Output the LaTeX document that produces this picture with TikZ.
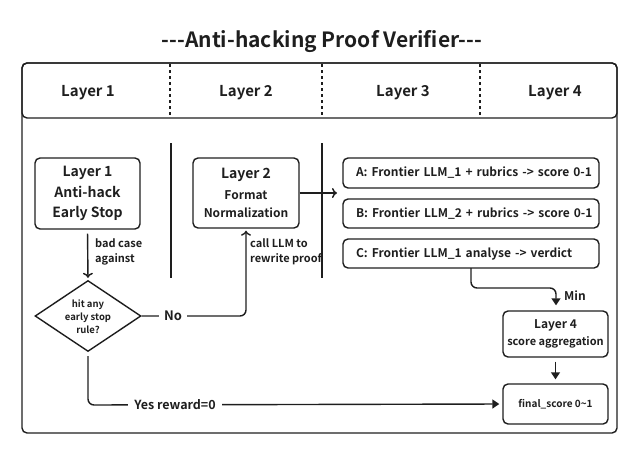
\documentclass[tikz,border=0pt]{standalone}
\usepackage{fontspec}
\setmainfont{Noto Sans CJK SC}[BoldFont={Noto Sans CJK SC Bold}]
\usetikzlibrary{arrows.meta,shapes.geometric,calc}
\definecolor{ink}{HTML}{1E1E1E}
\tikzset{
  box/.style={draw=ink, line width=1.4pt, rounded corners=5pt, align=center, text=ink, font=\bfseries, inner sep=0pt},
  lbl/.style={text=ink, font=\bfseries, inner sep=1pt},
  line/.style={draw=ink, line width=1.4pt},
  openarr/.style={line, -{To[length=5pt,width=10pt,line width=1.4pt]}},
  solidarr/.style={line, -{Triangle[length=7pt,width=9pt]}},
  l3box/.style={box, minimum width=256pt, minimum height=29pt, font=\bfseries\fontsize{12}{14}\selectfont, text width=244pt, align=left},
}
\begin{document}
\begin{tikzpicture}[x=1pt,y=-1pt]
\useasboundingbox (0,0) rectangle (639,455);
% title
\node[lbl, font=\bfseries\fontsize{21}{23}\selectfont] (title) at (322,42) {-{}-{}-Anti-hacking Proof Verifier-{}-{}-};
% frame
\draw[line, rounded corners=5pt] (22,63) rectangle (617,433);
\draw[line, rounded corners=5pt] (22,63) rectangle (617,118);
\draw[ink, line width=1.2pt, dash pattern=on 3pt off 3pt] (170,64) -- (170,117);
\draw[ink, line width=1.2pt, dash pattern=on 3pt off 3pt] (322,64) -- (322,117);
\draw[ink, line width=1.2pt, dash pattern=on 3pt off 3pt] (480,64) -- (480,117);
\node[lbl, font=\bfseries\fontsize{15}{17}\selectfont] (h1) at (88,93) {Layer 1};
\node[lbl, font=\bfseries\fontsize{15}{17}\selectfont] (h2) at (246,93) {Layer 2};
\node[lbl, font=\bfseries\fontsize{15}{17}\selectfont] (h3) at (403,93) {Layer 3};
\node[lbl, font=\bfseries\fontsize{15}{17}\selectfont] (h4) at (555,93) {Layer 4};
% separators
\draw[line] (171,143) -- (171,278);
\draw[line] (322,143) -- (322,278);
% boxes
\node[box, minimum width=105pt, minimum height=71pt, font=\bfseries\fontsize{14}{20.5}\selectfont] (b1) at (87.5,193.5) {Layer 1\\Anti-hack\\Early Stop};
\node[box, minimum width=106pt, minimum height=70pt, font=\bfseries\fontsize{12}{18}\selectfont] (b2) at (246,193) {{\fontsize{14}{18}\selectfont Layer 2}\\[3pt]Format\\Normalization};
\node[l3box, minimum height=30pt] (A) at (471,173) {\hspace*{7pt}A: Frontier LLM\_1 + rubrics -> score 0-1};
\node[l3box] (B) at (471,213.5) {\hspace*{7pt}B: Frontier LLM\_2 + rubrics -> score 0-1};
\node[l3box] (C) at (471,253.5) {\hspace*{7pt}C: Frontier LLM\_1 analyse -> verdict};
\node[draw=ink, line width=1.4pt, diamond, minimum width=106pt, minimum height=71pt, inner sep=0pt] (d) at (88,316) {};
\node[lbl, align=center, font=\bfseries\fontsize{9.5}{13}\selectfont] (dt) at (88,317) {hit any\\early stop\\rule?};
\node[box, minimum width=105pt, minimum height=46pt, font=\bfseries\fontsize{11}{17}\selectfont] (b4) at (555.5,334) {{\fontsize{12}{16}\selectfont Layer 4}\\score aggregation};
\node[box, minimum width=105pt, minimum height=40pt, font=\bfseries\fontsize{10}{12}\selectfont] (fin) at (555.5,404) {final\_score 0\textasciitilde1};
% connectors
\draw[openarr, shorten <=4pt, shorten >=2pt] (b1.south) -- (d.north);
\node[lbl, align=left, anchor=west, font=\bfseries\fontsize{11}{15}\selectfont] (l1) at (94,252) {bad case\\against};
\coordinate (nc) at (246,316);
\draw[openarr, rounded corners=6pt, shorten >=2pt] (d.east) -- (nc) -- (b2.south);
\node[lbl, fill=white, inner xsep=5pt, font=\bfseries\fontsize{13}{15}\selectfont] (no) at (173,316) {No};
\node[lbl, align=left, anchor=west, font=\bfseries\fontsize{11}{15}\selectfont] (l2) at (249,252) {call LLM to\\rewrite proof};
\coordinate (l3in) at (337,193);
\draw[openarr] (b2.east) -- (l3in);
\coordinate (c1) at (471,288);
\coordinate (c2) at (556,288);
\draw[solidarr, rounded corners=6pt, shorten >=5pt] (471,268) -- (c1) -- (c2) -- (b4.north -| c2);
\node[lbl, anchor=west, font=\bfseries\fontsize{12}{14}\selectfont] (min) at (563,296) {Min};
\draw[solidarr, shorten <=4pt, shorten >=4pt] (b4.south) -- (fin.north);
\coordinate (yc) at (88,405);
\draw[solidarr, rounded corners=6pt, shorten <=4pt, shorten >=3pt] (d.south) -- (yc) -- (fin.west);
\node[lbl, fill=white, inner xsep=6pt, font=\bfseries\fontsize{12.5}{15}\selectfont] (yes) at (175,405) {Yes reward=0};
\end{tikzpicture}
\end{document}
